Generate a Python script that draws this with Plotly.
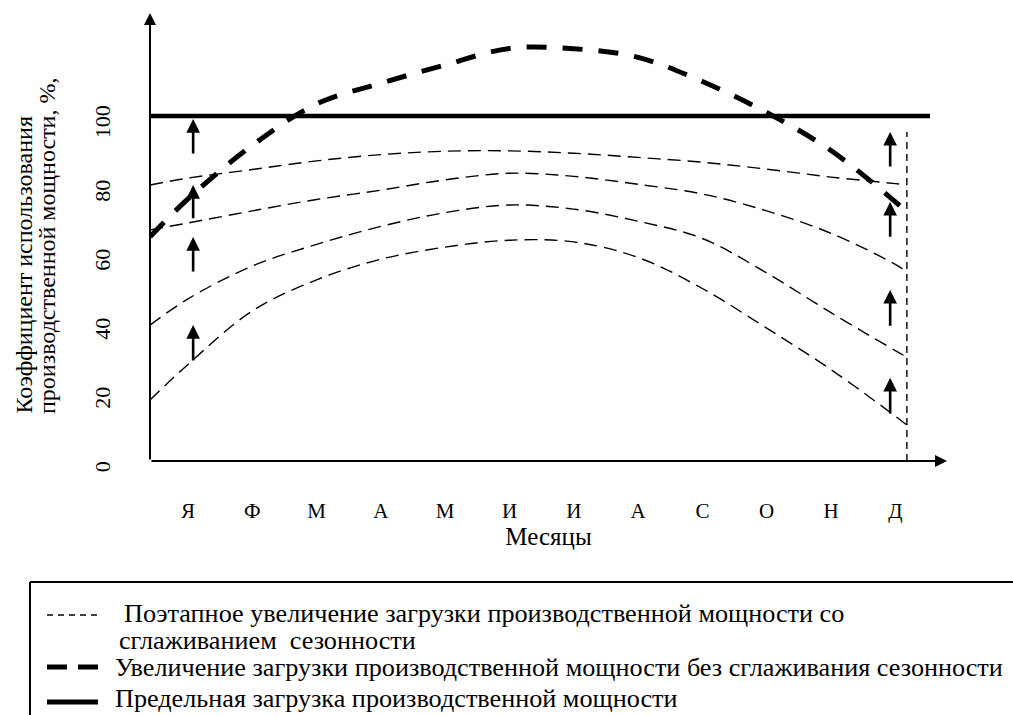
import plotly.graph_objects as go

# ---------------- data ----------------
months = ["Я", "Ф", "М", "А", "М", "И", "И", "А", "С", "О", "Н", "Д"]
month_pos = list(range(12))
y_ticks = [0, 20, 40, 60, 80, 100]

# thin dashed curves (stepwise increase with smoothing of seasonality)
stage_x = [-0.59, 0, 1, 2, 3, 4, 5, 6, 7, 8, 9, 10, 11, 11.18]
stage_1 = [80, 82, 84.5, 87, 88.8, 89.8, 89.9, 89.2, 88.0, 86.6, 84.6, 82.3, 80.4, 80]
stage_2 = [67, 69, 72.5, 75.8, 78.5, 81.5, 83.4, 82.5, 80.2, 77.4, 72.5, 66, 57, 54.8]
stage_3 = [39.4, 47, 56.5, 62.8, 68, 72, 74.2, 73, 69.5, 64.5, 54.5, 43, 32, 30.1]
stage_4 = [17.7, 28, 43.5, 52.5, 58.5, 62, 64, 63.5, 59, 50, 38.5, 26.5, 13, 10.4]

# bold dashed curve (increase without smoothing of seasonality)
season_x = [-0.59, 0, 1, 2, 3, 4, 5, 6, 7, 8, 9, 10, 11.07]
season_y = [65, 76, 91.5, 103.5, 109.5, 114.8, 119.6, 119.5, 117, 110, 101, 90, 74]

# limit load line
limit_x = [-0.59, 11.54]
limit_y = [100, 100]

# December boundary
dec_x = [11.18, 11.18]
dec_y = [0, 95.4]

# step arrows
arrow_left_x = 0.08
arrow_left_from = [88.7, 69.9, 54.5, 28.7]
arrow_left_to = [99.1, 80.0, 64.9, 39.4]
arrow_right_x = 10.92
arrow_right_from = [84.9, 64.6, 38.8, 13.3]
arrow_right_to = [95.4, 75.1, 49.6, 24.1]

x_range = [-0.591, 11.804]
y_range = [0, 129.86]

legend_texts = [
    "Поэтапное увеличение загрузки производственной мощности со",
    "сглаживанием\u00a0\u00a0сезонности",
    "Увеличение загрузки производственной мощности без сглаживания сезонности",
    "Предельная загрузка производственной мощности",
]
y_title_lines = ["Коэффициент использования", "производственной мощности, %,"]
x_title = "Месяцы"

# ---------------- layout geometry ----------------
W, H = 1013, 715
ML, MR, MT, MB = 150, 66, 13, 254
PW, PH = W - ML - MR, H - MT - MB


def pxx(px):
    return (px - ML) / PW


def pxy(py):
    return (H - MB - py) / PH


FONT = "Liberation Serif"

fig = go.Figure()

for ys in [stage_1, stage_2, stage_3, stage_4]:
    fig.add_trace(go.Scatter(
        x=stage_x, y=ys, mode="lines", line_shape="spline",
        line=dict(color="black", width=1.4, dash="13px,7px"),
        showlegend=False, hoverinfo="skip", cliponaxis=False))

fig.add_trace(go.Scatter(
    x=season_x, y=season_y, mode="lines", line_shape="spline",
    line=dict(color="black", width=5, dash="20px,16px"),
    showlegend=False, hoverinfo="skip", cliponaxis=False))

fig.add_trace(go.Scatter(
    x=limit_x, y=limit_y, mode="lines",
    line=dict(color="black", width=4.5),
    showlegend=False, hoverinfo="skip", cliponaxis=False))

fig.add_trace(go.Scatter(
    x=dec_x, y=dec_y, mode="lines",
    line=dict(color="black", width=1.4, dash="7px,5px"),
    showlegend=False, hoverinfo="skip", cliponaxis=False))

annotations = []
# axes with arrows
annotations.append(dict(x=x_range[0], y=y_range[1], ax=x_range[0], ay=y_range[0],
                        xref="x", yref="y", axref="x", ayref="y", text="",
                        showarrow=True, arrowhead=2, arrowwidth=2, arrowsize=1.2,
                        arrowcolor="black", standoff=0))
annotations.append(dict(x=x_range[1], y=y_range[0], ax=x_range[0], ay=y_range[0],
                        xref="x", yref="y", axref="x", ayref="y", text="",
                        showarrow=True, arrowhead=2, arrowwidth=2, arrowsize=1.2,
                        arrowcolor="black", standoff=0))
# step arrows
for xa, froms, tos in [(arrow_left_x, arrow_left_from, arrow_left_to),
                       (arrow_right_x, arrow_right_from, arrow_right_to)]:
    for f, t in zip(froms, tos):
        annotations.append(dict(x=xa, y=t, ax=xa, ay=f,
                                xref="x", yref="y", axref="x", ayref="y", text="",
                                showarrow=True, arrowhead=2, arrowwidth=2.6,
                                arrowsize=1.05, arrowcolor="black", standoff=0))

# y title (two lines)
for line, cx in zip(y_title_lines, [23, 47]):
    annotations.append(dict(x=pxx(cx), y=pxy(416), xref="paper", yref="paper",
                            text=line, textangle=-90, showarrow=False,
                            xanchor="center", yanchor="bottom",
                            font=dict(family=FONT, size=24, color="black")))

# legend texts
for txt, (lx, ly) in zip(legend_texts, [(122, 613), (117, 640), (113, 667), (113, 698)]):
    annotations.append(dict(x=pxx(lx), y=pxy(ly), xref="paper", yref="paper",
                            text=txt, showarrow=False, xanchor="left", yanchor="middle",
                            font=dict(family=FONT, size=26.2, color="black")))

shapes = [
    # legend frame
    dict(type="line", xref="paper", yref="paper", x0=pxx(30), x1=pxx(1020),
         y0=pxy(582), y1=pxy(582), line=dict(color="black", width=2)),
    dict(type="line", xref="paper", yref="paper", x0=pxx(30), x1=pxx(30),
         y0=pxy(582), y1=pxy(720), line=dict(color="black", width=2)),
    # legend samples
    dict(type="line", xref="paper", yref="paper", x0=pxx(47), x1=pxx(99),
         y0=pxy(615), y1=pxy(615), line=dict(color="black", width=1.5, dash="6px,5px")),
    dict(type="line", xref="paper", yref="paper", x0=pxx(47), x1=pxx(98),
         y0=pxy(667), y1=pxy(667), line=dict(color="black", width=5, dash="20px,11px")),
    dict(type="line", xref="paper", yref="paper", x0=pxx(47), x1=pxx(98),
         y0=pxy(702), y1=pxy(702), line=dict(color="black", width=5)),
]

fig.update_layout(
    template="none",
    width=W, height=H,
    margin=dict(l=ML, r=MR, t=MT, b=MB, pad=0),
    paper_bgcolor="white", plot_bgcolor="white",
    font=dict(family=FONT, color="black"),
    showlegend=False,
    annotations=annotations,
    shapes=shapes,
    xaxis=dict(range=x_range, tickvals=month_pos, ticktext=months,
               showgrid=False, zeroline=False, showline=False, ticks="",
               ticklabelstandoff=35, automargin=False,
               tickfont=dict(family=FONT, size=21, color="black"),
               title=dict(text=x_title, standoff=3,
                          font=dict(family=FONT, size=25, color="black"))),
    yaxis=dict(range=y_range, tickvals=y_ticks, ticktext=[str(v) for v in y_ticks],
               showgrid=False, zeroline=False, showline=False, ticks="",
               tickangle=-90, ticklabelstandoff=35, ticklabelshift=9,
               automargin=False,
               tickfont=dict(family=FONT, size=22, color="black")),
)

fig.write_html("out.html", config={"displayModeBar": False},
               post_script="document.body.style.margin='0';document.body.style.overflow='hidden';")
